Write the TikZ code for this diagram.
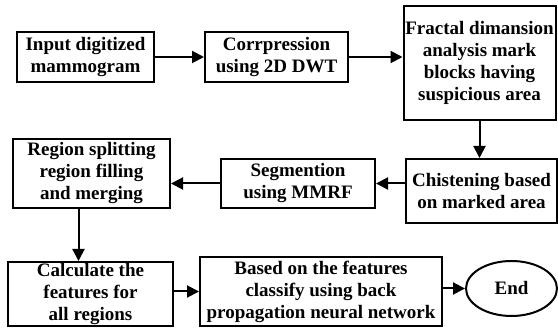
\documentclass[tikz,border=0pt]{standalone}
\usepackage{fontspec}
\setmainfont{Liberation Serif}
\usepackage{tikz}
\usetikzlibrary{arrows.meta,shapes.geometric}
\tikzset{
	stage/.style={
			draw, line width=2pt, align=center, inner sep=0pt,
			font=\bfseries\fontsize{19}{22}\selectfont
		},
	flow/.style={
			line width=2pt, -{Triangle[length=12pt,width=12pt]}
		}
}

\begin{document}
\begin{tikzpicture}[x=1pt, y=-1pt]
			\useasboundingbox (0, 0) rectangle (558, 328);

			\node[stage, minimum width=137pt, minimum height=50pt] (input) at (85.5, 57) {Input digitized\\mammogram};
			\node[stage, minimum width=143pt, minimum height=50pt] (compress) at (276.5, 57) {Corrpression\\using 2D DWT};
			\node[stage, minimum width=152pt, minimum height=114pt] (fractal) at (479.5, 63) {Fractal dimansion\\analysis mark\\blocks having\\suspicious area};

			\node[stage, minimum width=151pt, minimum height=64pt] (cluster) at (481.5, 191) {Chistening based\\on marked area};
			\node[stage, minimum width=154pt, minimum height=49pt] (segment) at (298, 183.5) {Segmention\\using MMRF};
			\node[stage, minimum width=157pt, minimum height=69pt] (region) at (91.5, 173.5) {Region splitting\\region filling\\and merging};

			\node[stage, minimum width=165pt, minimum height=64pt] (features) at (90.5, 294) {Calculate the\\features for\\all regions};
			\node[stage, minimum width=242pt, minimum height=69pt] (classify) at (321, 291.5) {Based on the features\\classify using back\\propagation neural network};
			\node[stage, ellipse, minimum width=91pt, minimum height=55pt] (finish) at (511.5, 288.5) {End};

			\draw[flow]	(input.east) to (compress.west);
			\draw[flow]	(compress.east) to (compress.east -| fractal.west);
			\draw[flow]	(fractal.south) to (fractal.south |- cluster.north);
			\draw[flow]	(cluster.west |- segment.east) to (segment.east);
			\draw[flow]	(segment.west) to (segment.west -| region.east);
			\draw[flow]	([xshift=-13pt]region.south) to ([xshift=-13pt]region.south |- features.north);
			\draw[flow]	(features.east |- classify.west) to (classify.west);
			\draw[flow]	(classify.east |- finish.west) to (finish.west);
		\end{tikzpicture}
\end{document}
